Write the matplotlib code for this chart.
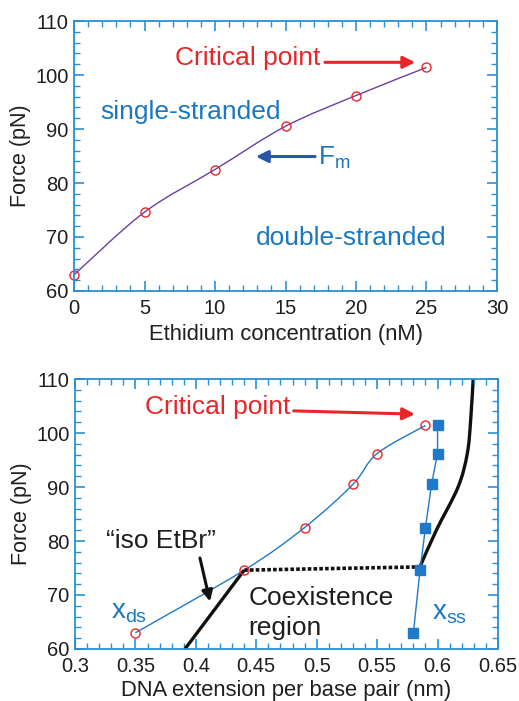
import numpy as np
import matplotlib
matplotlib.use("Agg")
import matplotlib.pyplot as plt
from matplotlib.path import Path
from matplotlib.patches import PathPatch
from matplotlib.ticker import MultipleLocator

plt.rcParams['font.family'] = ['Liberation Sans', 'DejaVu Sans']

# ---- data ----
conc = [0, 5, 10, 15, 20, 25]
force_m = [63.0, 74.6, 82.5, 90.5, 96.2, 101.4]

x_ds = [0.35, 0.44, 0.49, 0.53, 0.55, 0.59]
f_ds = [63.0, 74.6, 82.5, 90.5, 96.2, 101.4]

x_ss = [0.580, 0.5855, 0.590, 0.595, 0.600, 0.600]
f_ss = [63.0, 74.6, 82.5, 90.5, 96.2, 101.4]

iso_x = [0.391, 0.440]
iso_f = [60.0, 74.6]

coex_x = [0.440, 0.585]
coex_f = [74.6, 75.2]

ss_theory_x = [0.585, 0.599, 0.617, 0.6246, 0.6274, 0.6296]
ss_theory_f = [75.0, 82.0, 90.0, 96.2, 102.4, 110.5]

BLUE_AX = '#2a8fd6'
BLUE_TXT = '#1a78c2'
RED = '#e8262a'
PURPLE = '#6b3fa0'
BLUE_LINE = '#1f78c8'
TXT = '#1e1e1e'


def smooth_path(xs, ys):
    """Catmull-Rom curve through points as Bezier path."""
    pts = np.column_stack([xs, ys]).astype(float)
    n = len(pts)
    verts = [pts[0]]
    codes = [Path.MOVETO]
    for i in range(n - 1):
        p0 = pts[i - 1] if i > 0 else pts[i]
        p1 = pts[i]
        p2 = pts[i + 1]
        p3 = pts[i + 2] if i + 2 < n else pts[i + 1]
        c1 = p1 + (p2 - p0) / 6.0
        c2 = p2 - (p3 - p1) / 6.0
        verts += [c1, c2, p2]
        codes += [Path.CURVE4] * 3
    return Path(verts, codes)


def style_axes(ax, xmaj, xmin, ymaj, ymin):
    for s in ax.spines.values():
        s.set_color(BLUE_AX)
        s.set_linewidth(1.3)
    ax.xaxis.set_major_locator(MultipleLocator(xmaj))
    ax.xaxis.set_minor_locator(MultipleLocator(xmin))
    ax.yaxis.set_major_locator(MultipleLocator(ymaj))
    ax.yaxis.set_minor_locator(MultipleLocator(ymin))
    ax.tick_params(which='both', direction='in', top=True, right=True,
                   color=BLUE_AX, labelsize=14.5, labelcolor=TXT)
    ax.tick_params(which='major', length=7, width=1.2)
    ax.tick_params(which='minor', length=4, width=1.0)
    ax.tick_params(axis='x', which='major', pad=6)
    ax.tick_params(axis='y', which='major', pad=4)


fig = plt.figure(figsize=(5.19, 7.01), dpi=100)

# ---- top panel ----
ax1 = fig.add_axes([0.1426, 0.5849, 0.815, 0.3851])
ax1.set_xlim(0, 30)
ax1.set_ylim(60, 110)
style_axes(ax1, 5, 1, 10, 2)
ax1.add_patch(PathPatch(smooth_path(conc, force_m), fill=False,
                        edgecolor=PURPLE, lw=1.0))
ax1.plot(conc, force_m, 'o', mfc='none', mec=RED, ms=6.5, mew=1.0,
         clip_on=False)
ax1.set_xlabel('Ethidium concentration (nM)', fontsize=15.8, color=TXT,
               labelpad=4)
ax1.set_ylabel('Force (pN)', fontsize=15.5, color=TXT, labelpad=3)
ax1.text(1.84, 93.2, 'single-stranded', color=BLUE_TXT, fontsize=19,
         va='center', ha='left')
ax1.text(12.9, 69.9, 'double-stranded', color=BLUE_TXT, fontsize=19,
         va='center', ha='left')
ax1.text(7.16, 103.1, 'Critical point', color=RED, fontsize=19,
         va='center', ha='left')
ax1.annotate('', xy=(24.2, 102.35), xytext=(17.8, 102.35),
             arrowprops=dict(arrowstyle='-|>', color=RED, lw=2.2,
                             mutation_scale=18, shrinkA=0, shrinkB=0))
ax1.annotate('', xy=(12.9, 84.9), xytext=(17.1, 84.9),
             arrowprops=dict(arrowstyle='-|>', color='#2a55a8', lw=2.2,
                             mutation_scale=18, shrinkA=0, shrinkB=0))
ax1.text(17.3, 84.6, r'F$_{\mathregular{m}}$', color=BLUE_TXT, fontsize=19,
         va='center', ha='left')

# ---- bottom panel ----
ax2 = fig.add_axes([0.1445, 0.0742, 0.815, 0.3851])
ax2.set_xlim(0.3, 0.65)
ax2.set_ylim(60, 110)
style_axes(ax2, 0.05, 0.01, 10, 2)
ax2.set_xticks([0.3, 0.35, 0.4, 0.45, 0.5, 0.55, 0.6, 0.65])
ax2.set_xticklabels(['0.3', '0.35', '0.4', '0.45', '0.5', '0.55', '0.6', '0.65'])

ax2.plot(iso_x, iso_f, color='#111111', lw=2.4, solid_capstyle='butt',
         clip_on=False)
ax2.plot(coex_x, coex_f, color='#111111', lw=2.6, linestyle=(0, (1.0, 0.6)))
ax2.add_patch(PathPatch(smooth_path(ss_theory_x, ss_theory_f), fill=False,
                        edgecolor='#111111', lw=2.4))

ax2.add_patch(PathPatch(smooth_path(x_ds, f_ds), fill=False,
                        edgecolor=BLUE_LINE, lw=1.0))
ax2.plot(x_ds, f_ds, 'o', mfc='none', mec=RED, ms=6.5, mew=1.0, zorder=5)
ax2.plot(x_ss, f_ss, 's-', color=BLUE_LINE, ms=7, lw=1.0, zorder=5)

ax2.set_xlabel('DNA extension per base pair (nm)', fontsize=15.8,
               color=TXT, labelpad=3)
ax2.set_ylabel('Force (pN)', fontsize=15.5, color=TXT, labelpad=3)

ax2.text(0.358, 104.9, 'Critical point', color=RED, fontsize=19,
         va='center', ha='left')
ax2.annotate('', xy=(0.5813, 103.5), xytext=(0.481, 104.1),
             arrowprops=dict(arrowstyle='-|>', color=RED, lw=2.2,
                             mutation_scale=18, shrinkA=0, shrinkB=0))
ax2.text(0.371, 80.0, '\u201ciso EtBr\u201d', color=TXT, fontsize=19,
         va='center', ha='center')
ax2.annotate('', xy=(0.4117, 68.8), xytext=(0.4034, 76.85),
             arrowprops=dict(arrowstyle='-|>', color='#111111', lw=2.2,
                             mutation_scale=16, shrinkA=0, shrinkB=0))
ax2.text(0.4434, 69.4, 'Coexistence', color=TXT, fontsize=19,
         va='center', ha='left')
ax2.text(0.4434, 63.9, 'region', color=TXT, fontsize=19,
         va='center', ha='left')
ax2.text(0.330, 66.9, r'x$_{\mathregular{ds}}$', color=BLUE_TXT, fontsize=20,
         va='center', ha='left')
ax2.text(0.595, 66.7, r'x$_{\mathregular{ss}}$', color=BLUE_TXT, fontsize=20,
         va='center', ha='left')

fig.savefig('out.png', dpi=100)
